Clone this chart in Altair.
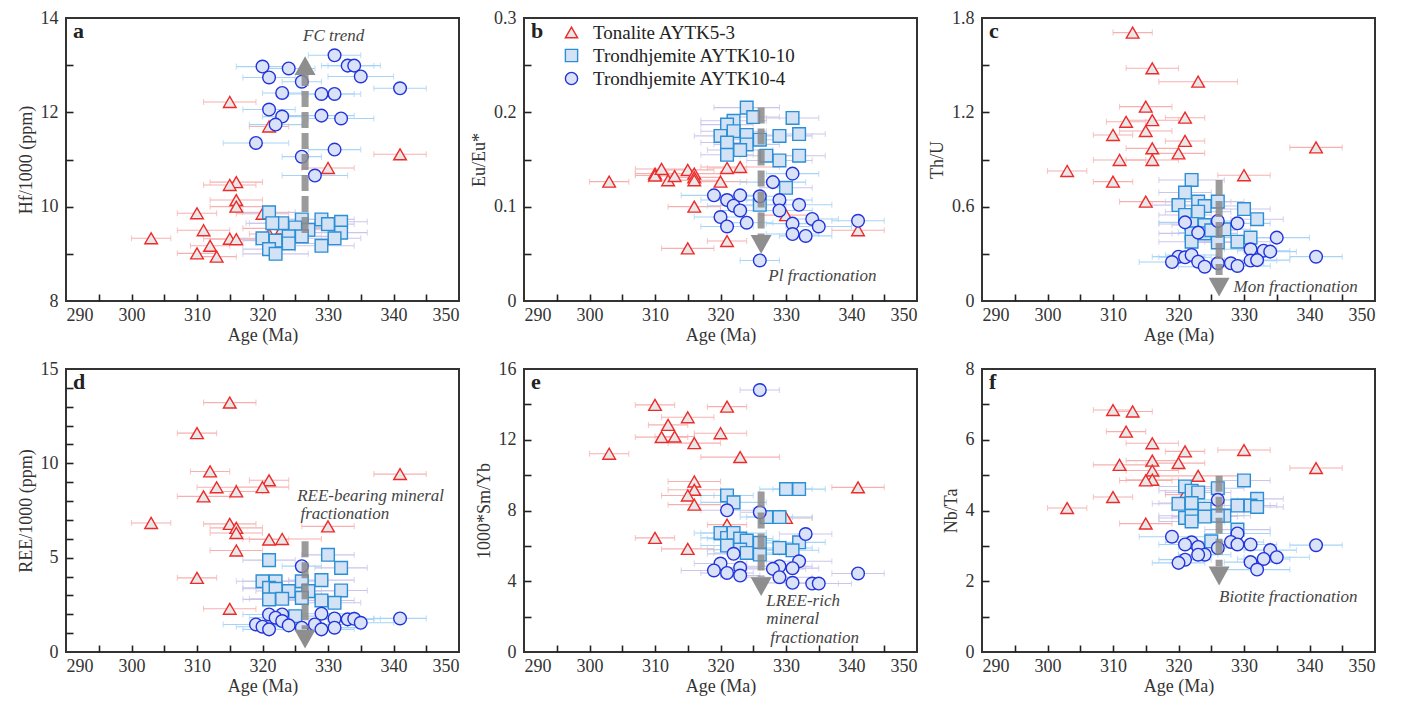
import altair as alt
import pandas as pd

FONT = "Liberation Serif"

SERIES = ["Tonalite AYTK5-3", "Trondhjemite AYTK10-10", "Trondhjemite AYTK10-4"]
SHAPES = ["triangle-up", "square", "circle"]
FILLS = ["#e8e8e8", "#d3e2f4", "#d9e2f7"]
STROKES = ["#ee2a2a", "#2a8fd6", "#2233dd"]

LETTERS = ["a", "b", "c", "d", "e", "f"]
Y_TITLES = ["Hf/1000 (ppm)", "Eu/Eu*", "Th/U", "REE/1000 (ppm)", "1000*Sm/Yb", "Nb/Ta"]
Y_DOMAINS = [[8, 14], [0, 0.3], [0, 1.8], [0, 15], [0, 16], [0, 8]]
Y_LABELS = [[8, 10, 12, 14], [0, 0.1, 0.2, 0.3], [0, 0.6, 1.2, 1.8],
            [0, 5, 10, 15], [0, 4, 8, 12, 16], [0, 2, 4, 6, 8]]
Y_TICKS = [[9, 10, 11, 12, 13], [0.05, 0.1, 0.15, 0.2, 0.25], [0.3, 0.6, 0.9, 1.2, 1.5],
           list(range(1, 15)), [2, 4, 6, 8, 10, 12, 14], [1, 2, 3, 4, 5, 6, 7]]
X_DOMAIN = [290, 350]
X_LABELS = [290, 300, 310, 320, 330, 340, 350]
X_TICKS = [295, 300, 305, 310, 315, 320, 325, 330, 335, 340, 345]

# 2-sigma age errors (Ma)
TON_ERR = {303: 3, 310: 3, 311: 4, 312: 3, 313: 3, 315: 4, 316: 4, 320: 4, 321: 3, 323: 6, 330: 4, 341: 4}
SQ_ERR = {320: 4, 321: 4, 322: 5, 323: 5, 324: 5, 325: 4, 326: 4, 327: 4, 329: 5, 330: 4, 331: 4, 332: 4}
CI_ERR = {319: 5, 320: 4, 321: 4, 322: 4, 323: 3, 324: 4, 326: 3, 328: 5, 329: 5, 331: 4, 332: 5,
          333: 4, 334: 4, 335: 5, 341: 4}

TON_BAR = "#f6b0b0"
LAV_BAR = "#cac6ea"
BLUE_BAR = "#a6d4f6"
SQ_BAR_COLORS = [LAV_BAR, LAV_BAR, LAV_BAR, LAV_BAR, BLUE_BAR, LAV_BAR]
CI_BAR_COLORS = [BLUE_BAR, BLUE_BAR, BLUE_BAR, BLUE_BAR, LAV_BAR, BLUE_BAR]

# ---- panel a : Hf/1000
A_TON_X = [315, 321, 341, 330, 316, 315, 316, 316, 310, 320, 311, 323, 303, 315, 316, 321, 312, 310, 313]
A_TON_Y = [12.22, 11.70, 11.11, 10.82, 10.52, 10.46, 10.14, 10.00, 9.86, 9.85, 9.50, 9.54, 9.33, 9.32, 9.31, 9.42, 9.17, 9.01, 8.94]
A_SQ_X = [321, 326, 329, 332, 323, 325, 327, 330, 332, 320, 322, 324, 326, 331, 324, 321, 329, 322, 321.5]
A_SQ_Y = [9.88, 9.73, 9.73, 9.68, 9.65, 9.56, 9.51, 9.63, 9.45, 9.33, 9.28, 9.37, 9.37, 9.33, 9.22, 9.10, 9.17, 9.00, 9.65]
A_CI_X = [331, 320, 324, 333, 334, 321, 335, 326, 341, 323, 329, 331, 321, 323, 329, 332, 322, 319, 331, 326, 328]
A_CI_Y = [13.21, 12.97, 12.93, 12.99, 12.99, 12.74, 12.76, 12.65, 12.51, 12.41, 12.39, 12.39, 12.06, 11.91, 11.93, 11.87, 11.74, 11.35, 11.21, 11.06, 10.66]

# ---- panel b : Eu/Eu*
B_TON_X = [303, 310, 310, 311, 312, 313, 315, 316, 316, 316, 320, 321, 323, 316, 330, 321, 315, 341]
B_TON_Y = [0.1265, 0.135, 0.133, 0.140, 0.128, 0.1325, 0.139, 0.135, 0.131, 0.128, 0.1265, 0.141, 0.142, 0.100, 0.091, 0.0636, 0.0558, 0.075]
B_SQ_X = [324, 325, 331, 322, 321, 320, 322, 324, 329, 332, 321, 324, 326, 323, 321, 327, 329, 332, 330, 326]
B_SQ_Y = [0.205, 0.195, 0.194, 0.191, 0.187, 0.175, 0.180, 0.176, 0.175, 0.177, 0.168, 0.166, 0.171, 0.160, 0.155, 0.154, 0.149, 0.154, 0.120, 0.102]
B_CI_X = [331, 328, 319, 323, 326, 321, 329, 322, 332, 323, 329, 320, 334, 341, 324, 331, 335, 321, 331, 333, 326]
B_CI_Y = [0.135, 0.126, 0.112, 0.112, 0.111, 0.107, 0.107, 0.101, 0.102, 0.096, 0.096, 0.089, 0.087, 0.085, 0.083, 0.082, 0.079, 0.079, 0.071, 0.069, 0.043]

# ---- panel c : Th/U
C_TON_X = [313, 316, 323, 315, 312, 316, 321, 315, 310, 321, 316, 320, 311, 316, 303, 330, 310, 315, 341]
C_TON_Y = [1.707, 1.48, 1.395, 1.236, 1.14, 1.15, 1.166, 1.081, 1.056, 1.018, 0.971, 0.939, 0.897, 0.897, 0.827, 0.80, 0.759, 0.632, 0.977]
C_SQ_X = [322, 321, 323, 320, 326, 324, 330, 332, 321, 323, 322, 324, 327, 324, 322, 331, 329, 322, 326, 325]
C_SQ_Y = [0.77, 0.69, 0.632, 0.61, 0.632, 0.604, 0.585, 0.52, 0.547, 0.568, 0.49, 0.483, 0.456, 0.43, 0.43, 0.403, 0.377, 0.377, 0.373, 0.45]
C_CI_X = [321, 326, 329, 323, 335, 331, 333, 334, 320, 321, 322, 341, 319, 323, 331, 332, 324, 326, 328, 329]
C_CI_Y = [0.50, 0.509, 0.494, 0.435, 0.403, 0.329, 0.32, 0.314, 0.282, 0.278, 0.293, 0.282, 0.248, 0.25, 0.257, 0.26, 0.218, 0.24, 0.24, 0.223]

# ---- panel d : REE/1000
D_TON_X = [315, 310, 312, 341, 321, 320, 313, 316, 311, 303, 315, 316, 316, 330, 321, 323, 316, 310, 315]
D_TON_Y = [13.22, 11.60, 9.57, 9.43, 9.10, 8.74, 8.73, 8.51, 8.25, 6.84, 6.79, 6.58, 6.31, 6.66, 5.96, 5.99, 5.38, 3.93, 2.29]
D_SQ_X = [330, 321, 332, 320, 322, 326, 329, 321, 324, 327, 332, 322, 321, 323, 326, 329, 331, 325]
D_SQ_Y = [5.15, 4.87, 4.46, 3.75, 3.75, 3.75, 3.81, 3.40, 3.23, 3.23, 3.26, 3.35, 2.79, 2.82, 2.87, 2.73, 2.61, 1.90]
D_CI_X = [326, 329, 321, 323, 322, 331, 333, 334, 341, 323, 335, 319, 320, 324, 328, 331, 321, 326, 329]
D_CI_Y = [4.55, 2.03, 1.99, 1.99, 1.82, 1.78, 1.73, 1.76, 1.78, 1.64, 1.55, 1.46, 1.34, 1.41, 1.46, 1.29, 1.20, 1.29, 1.20]

# ---- panel e : 1000*Sm/Yb
E_TON_X = [310, 321, 315, 312, 311, 313, 320, 316, 303, 323, 316, 341, 316, 315, 316, 330, 321, 310, 315]
E_TON_Y = [13.97, 13.87, 13.27, 12.84, 12.15, 12.18, 12.37, 11.81, 11.21, 11.02, 9.64, 9.31, 9.17, 8.85, 8.33, 7.58, 7.20, 6.45, 5.83]
E_SQ_X = [330, 332, 321, 322, 327, 329, 320, 321, 322, 323, 324, 326, 332, 329, 331, 321, 323, 324, 326]
E_SQ_Y = [9.21, 9.21, 8.85, 8.46, 7.63, 7.63, 6.73, 6.45, 6.73, 6.41, 6.30, 6.17, 6.20, 5.88, 5.75, 6.02, 5.79, 5.60, 5.51]
E_CI_X = [326, 321, 326, 333, 322, 332, 320, 329, 319, 323, 328, 331, 321, 341, 323, 329, 331, 334, 335]
E_CI_Y = [14.81, 8.01, 7.90, 6.67, 5.55, 5.13, 5.00, 4.85, 4.61, 4.76, 4.70, 4.74, 4.47, 4.44, 4.32, 4.23, 3.91, 3.87, 3.87]

# ---- panel f : Nb/Ta
F_TON_X = [310, 313, 312, 316, 321, 330, 341, 311, 316, 320, 316, 323, 316, 315, 321, 310, 303, 315]
F_TON_Y = [6.84, 6.80, 6.23, 5.90, 5.67, 5.71, 5.20, 5.29, 5.41, 5.34, 5.13, 4.98, 4.87, 4.85, 4.45, 4.38, 4.07, 3.63]
F_SQ_X = [330, 326, 321, 322, 323, 332, 320, 322, 329, 331, 332, 324, 321, 322, 324, 327, 326, 322, 329, 325]
F_SQ_Y = [4.85, 4.63, 4.68, 4.56, 4.51, 4.33, 4.19, 4.21, 4.14, 4.14, 4.10, 4.05, 3.79, 3.85, 3.83, 3.85, 3.85, 3.69, 3.46, 3.13]
F_CI_X = [326, 329, 319, 322, 328, 321, 329, 331, 341, 323, 326, 334, 324, 323, 335, 333, 321, 331, 320, 332]
F_CI_Y = [4.30, 3.35, 3.26, 3.10, 3.11, 3.04, 3.04, 3.04, 3.02, 2.97, 2.94, 2.88, 2.75, 2.75, 2.68, 2.63, 2.61, 2.54, 2.52, 2.33]

PANEL_DATA = [
    (A_TON_X, A_TON_Y, A_SQ_X, A_SQ_Y, A_CI_X, A_CI_Y),
    (B_TON_X, B_TON_Y, B_SQ_X, B_SQ_Y, B_CI_X, B_CI_Y),
    (C_TON_X, C_TON_Y, C_SQ_X, C_SQ_Y, C_CI_X, C_CI_Y),
    (D_TON_X, D_TON_Y, D_SQ_X, D_SQ_Y, D_CI_X, D_CI_Y),
    (E_TON_X, E_TON_Y, E_SQ_X, E_SQ_Y, E_CI_X, E_CI_Y),
    (F_TON_X, F_TON_Y, F_SQ_X, F_SQ_Y, F_CI_X, F_CI_Y),
]

# trend arrows: x, tail, head base, tip
ARROW_X = [326.5, 326.2, 326.2, 326.5, 326.2, 326.2]
ARROW_TAIL = [9.44, 0.205, 0.77, 5.87, 9.08, 4.98]
ARROW_BASE = [12.80, 0.065, 0.165, 1.20, 4.25, 2.42]
ARROW_TIP = [13.19, 0.050, 0.028, 0.18, 3.16, 1.88]

# annotation text lines (left-aligned): panel index, text, x, y
NOTE_PANEL = [0, 1, 2, 3, 3, 4, 4, 4, 5]
NOTE_TEXT = ["FC trend", "Pl fractionation", "Mon fractionation", "REE-bearing mineral",
             "fractionation", "LREE-rich", "mineral", "fractionation", "Biotite fractionation"]
NOTE_X = [326.2, 327.3, 328.4, 325.3, 325.8, 327.0, 327.0, 327.6, 326.2]
NOTE_Y = [13.61, 0.0265, 0.087, 8.28, 7.32, 2.88, 1.84, 0.77, 1.56]

PANEL_W = 393
PANEL_H = 283
TEXT_COLOR = "#333333"
AXIS_FS = 18


def make_panel(i):
    tx, ty, sx, sy, cx, cy = PANEL_DATA[i]
    rows = []
    for x, y in zip(tx, ty):
        rows.append((x, y, SERIES[0], TON_ERR.get(int(x), 4), TON_BAR))
    for x, y in zip(sx, sy):
        rows.append((x, y, SERIES[1], SQ_ERR.get(int(x), 4), SQ_BAR_COLORS[i]))
    for x, y in zip(cx, cy):
        rows.append((x, y, SERIES[2], CI_ERR.get(int(x), 4), CI_BAR_COLORS[i]))
    pts = pd.DataFrame(rows, columns=["x", "y", "series", "err", "ecol"])
    pts["order"] = range(len(pts))
    pts["lo"] = pts["x"] - pts["err"]
    pts["hi"] = pts["x"] + pts["err"]
    caps = pd.concat([
        pd.DataFrame({"cx": pts["lo"], "y": pts["y"], "ecol": pts["ecol"]}),
        pd.DataFrame({"cx": pts["hi"], "y": pts["y"], "ecol": pts["ecol"]}),
    ])

    xs = alt.Scale(domain=X_DOMAIN, nice=False, zero=False)
    ys = alt.Scale(domain=Y_DOMAINS[i], nice=False, zero=False)

    tick_x_axis = alt.Axis(orient="bottom", values=X_TICKS, labels=False, ticks=True, tickSize=7,
                           tickWidth=1.6, tickColor="#222", domain=False, grid=False, title=None, offset=-7)
    tick_y_axis = alt.Axis(orient="left", values=Y_TICKS[i], labels=False, ticks=True, tickSize=7,
                           tickWidth=1.6, tickColor="#222", domain=False, grid=False, title=None, offset=-7)
    lab_x_axis = alt.Axis(orient="bottom", values=X_LABELS, ticks=False, tickSize=0, domain=False, grid=False,
                          title="Age (Ma)", labelFont=FONT, labelFontSize=AXIS_FS, labelColor=TEXT_COLOR,
                          labelPadding=5, titleFont=FONT, titleFontSize=AXIS_FS, titleFontWeight="normal",
                          titleColor=TEXT_COLOR, titlePadding=2)
    lab_y_axis = alt.Axis(orient="left", values=Y_LABELS[i], format="~g", ticks=False, tickSize=0,
                          domain=False, grid=False, title=Y_TITLES[i], labelFont=FONT, labelFontSize=AXIS_FS,
                          labelColor=TEXT_COLOR, labelPadding=8, titleFont=FONT, titleFontSize=AXIS_FS,
                          titleFontWeight="normal", titleColor=TEXT_COLOR, titlePadding=5)

    rules = alt.Chart(pts).mark_rule(strokeWidth=1.1).encode(
        x=alt.X("lo:Q", scale=xs, axis=tick_x_axis),
        x2="hi:Q",
        y=alt.Y("y:Q", scale=ys, axis=tick_y_axis),
        color=alt.Color("ecol:N", scale=None),
    )
    capmarks = alt.Chart(caps).mark_tick(orient="vertical", size=6, thickness=1.1).encode(
        x=alt.X("cx:Q", scale=xs, axis=None),
        y=alt.Y("y:Q", scale=ys, axis=None),
        color=alt.Color("ecol:N", scale=None),
    )

    if i == 1:
        leg = alt.Legend(title=None, orient="none", legendX=38, legendY=5, labelFont=FONT,
                         labelFontSize=19, labelColor="#222", labelLimit=0, symbolSize=150,
                         symbolStrokeWidth=1.4, rowPadding=3, labelOffset=12)
    else:
        leg = None

    points = alt.Chart(pts).mark_point(filled=True, opacity=1, strokeWidth=1.4, size=160).encode(
        x=alt.X("x:Q", scale=xs, axis=lab_x_axis),
        y=alt.Y("y:Q", scale=ys, axis=lab_y_axis),
        shape=alt.Shape("series:N", scale=alt.Scale(domain=SERIES, range=SHAPES), legend=leg),
        fill=alt.Fill("series:N", scale=alt.Scale(domain=SERIES, range=FILLS), legend=leg),
        stroke=alt.Stroke("series:N", scale=alt.Scale(domain=SERIES, range=STROKES), legend=leg),
        order=alt.Order("order:Q"),
    )

    arrow_df = pd.DataFrame({"ax": [ARROW_X[i]], "tail": [ARROW_TAIL[i]],
                             "base": [ARROW_BASE[i]], "tip": [ARROW_TIP[i]]})
    shaft = alt.Chart(arrow_df).mark_rule(strokeWidth=7, strokeDash=[16, 5], color="#8a8a8a",
                                          opacity=0.85).encode(
        x=alt.X("ax:Q", scale=xs, axis=None),
        y=alt.Y("tail:Q", scale=ys, axis=None),
        y2="base:Q",
    )
    up = ARROW_TIP[i] > ARROW_TAIL[i]
    head_path = "M-1,1.8L1,1.8L0,0Z" if up else "M-1,-1.8L1,-1.8L0,0Z"
    head = alt.Chart(arrow_df).mark_point(shape=head_path, size=440, filled=True, color="#8e8e8e",
                                          opacity=1, strokeWidth=0).encode(
        x=alt.X("ax:Q", scale=xs, axis=None),
        y=alt.Y("tip:Q", scale=ys, axis=None),
    )

    notes = pd.DataFrame({"p": NOTE_PANEL, "t": NOTE_TEXT, "x": NOTE_X, "y": NOTE_Y})
    notes = notes[notes["p"] == i]
    note_marks = alt.Chart(notes).mark_text(font=FONT, fontStyle="italic", fontSize=17, align="left",
                                            baseline="middle", color="#444").encode(
        x=alt.X("x:Q", scale=xs, axis=None),
        y=alt.Y("y:Q", scale=ys, axis=None),
        text="t:N",
    )

    letter = alt.Chart(pd.DataFrame({"letter": [LETTERS[i]]})).mark_text(
        font=FONT, fontWeight="bold", fontSize=22, align="left", baseline="middle", color="#222"
    ).encode(x=alt.value(7), y=alt.value(13), text="letter:N")

    return alt.layer(rules, capmarks, points, shaft, head, note_marks, letter).resolve_axis(
        x="independent", y="independent"
    ).properties(width=PANEL_W, height=PANEL_H)


panels = [make_panel(i) for i in range(6)]

chart = alt.concat(*panels, columns=3, spacing={"row": 68, "column": 65}).properties(
    bounds="flush",
    padding={"left": 8, "top": 0, "right": 5, "bottom": 0},
).resolve_scale(
    shape="independent", fill="independent", stroke="independent"
).configure_view(stroke="#333333", strokeWidth=2)

chart.save("out.html", embed_options={"renderer": "svg", "actions": False})
